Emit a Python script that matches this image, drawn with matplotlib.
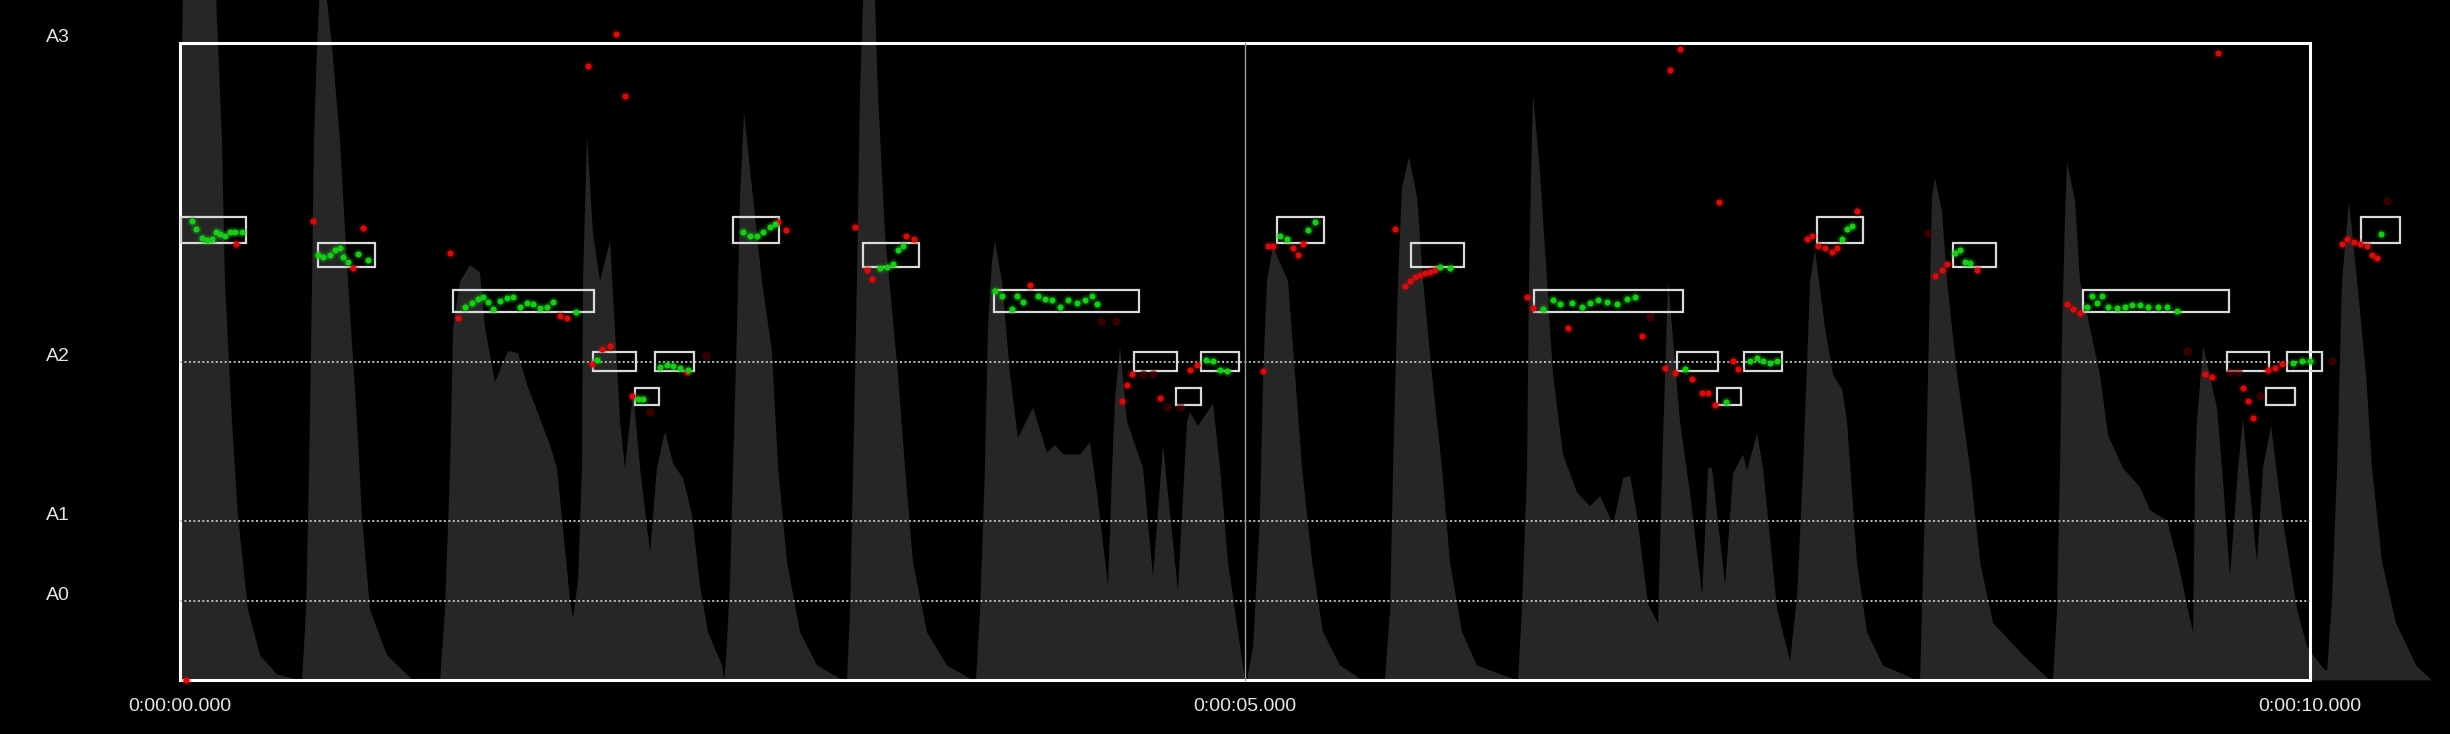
import matplotlib
matplotlib.use("Agg")
import matplotlib.pyplot as plt
import matplotlib.transforms as mtransforms
from matplotlib.patches import Rectangle

# amplitude envelope (time in s, level in % of display height)
env_t = [0.000, 0.005, 0.015, 0.090, 0.170, 0.197, 0.211, 0.244, 0.272, 0.319, 0.376, 0.455, 0.563,
         0.573, 0.592, 0.606, 0.620, 0.629, 0.643, 0.667, 0.690, 0.714, 0.751, 0.789, 0.831, 0.854, 0.892, 0.972, 1.094, 1.221,
         1.244, 1.268, 1.282, 1.315, 1.362, 1.408, 1.432, 1.479, 1.540, 1.587, 1.629, 1.737, 1.770, 1.831, 1.845, 1.869,
         1.887, 1.892, 1.911, 1.939, 1.972, 2.019, 2.042, 2.066, 2.089, 2.127, 2.160, 2.207, 2.239, 2.277, 2.315, 2.362,
         2.404, 2.441, 2.479, 2.545, 2.554,
         2.563, 2.582, 2.596, 2.615, 2.629, 2.648, 2.685, 2.732, 2.779, 2.808, 2.850, 2.911, 2.991, 3.113,
         3.131, 3.146, 3.160, 3.178, 3.192, 3.207, 3.235, 3.263, 3.277, 3.310, 3.371, 3.404, 3.441, 3.507, 3.601, 3.723,
         3.737, 3.756, 3.779, 3.793, 3.812, 3.826, 3.859, 3.897, 3.934, 4.005, 4.070, 4.108, 4.146, 4.225, 4.272, 4.305,
         4.357, 4.376, 4.390, 4.413, 4.446, 4.484, 4.521, 4.568, 4.615, 4.685, 4.728, 4.742, 4.779, 4.850, 4.883, 4.920,
         4.977, 5.000,
         5.009, 5.038, 5.070, 5.085, 5.103, 5.131, 5.202, 5.235, 5.268, 5.315, 5.366, 5.446, 5.554, 5.657,
         5.681, 5.695, 5.718, 5.737, 5.770, 5.808, 5.836, 5.878, 5.925, 5.962, 6.019, 6.089, 6.277,
         6.282, 6.300, 6.324, 6.333, 6.343, 6.352, 6.385, 6.418, 6.446, 6.493, 6.559, 6.620, 6.667, 6.728, 6.775, 6.808,
         6.840, 6.892, 6.939, 6.958, 6.986, 7.042, 7.089, 7.146, 7.174, 7.192, 7.254, 7.291, 7.338, 7.357, 7.404, 7.432,
         7.498, 7.559, 7.592, 7.620, 7.653, 7.676, 7.723, 7.761, 7.803, 7.826, 7.850, 7.873, 7.920, 7.995, 8.155,
         8.169, 8.178, 8.197, 8.216, 8.225, 8.239, 8.272, 8.296, 8.343, 8.404, 8.451, 8.512, 8.577, 8.653, 8.779,
         8.793, 8.812, 8.826, 8.836, 8.850, 8.859, 8.897, 8.920, 9.014, 9.052, 9.122, 9.202, 9.249, 9.329, 9.380, 9.427,
         9.451, 9.460, 9.469, 9.498, 9.563, 9.587, 9.624, 9.662, 9.685, 9.751, 9.779, 9.817, 9.869, 9.939, 9.986, 10.014, 10.070,
         10.080, 10.103, 10.127, 10.150, 10.183, 10.221, 10.263, 10.291, 10.338, 10.404, 10.498, 10.573]
env_level = [0, 80, 105, 118, 100, 79.4, 58.7, 38.1, 24.3, 10.4, 3.7, 0.9, 0,
             0, 10.4, 31.2, 58.7, 79.4, 93.1, 108, 100, 93.1, 79.4, 58.7, 38.1, 24.3, 10.4, 3.7, 0, 0,
             10.4, 31.2, 51.8, 58.7, 61.0, 60.0, 51.8, 43.8, 48.4, 48.1, 43.5, 34.6, 31.2, 11.8, 9.1, 14.7,
             31.2, 58.7, 80.0, 65.6, 58.7, 64.6, 51.8, 38.1, 31.2, 42.5, 31.2, 18.8, 31.2, 36.6, 31.9, 29.7,
             24.3, 14.0, 7.1, 2.2, 0,
             2.9, 14.0, 31.2, 51.8, 71.0, 83.5, 72.5, 58.7, 48.4, 31.2, 17.4, 7.1, 2.2, 0,
             0, 10.4, 31.2, 58.7, 86.2, 100, 110, 100, 86.2, 65.6, 44.9, 31.2, 17.4, 7.1, 2.2, 0,
             0, 10.4, 31.2, 51.8, 61.5, 64.6, 58.7, 44.9, 35.6, 40.1, 33.5, 34.6, 33.2, 33.2, 35.0, 27.6,
             14.0, 31.2, 41.5, 49.1, 38.1, 34.6, 31.2, 15.3, 34.6, 13.2, 38.1, 39.4, 37.4, 40.7, 31.2, 17.4,
             5.0, 0,
             0, 5.0, 24.3, 44.9, 58.7, 63.8, 58.7, 44.9, 31.2, 17.4, 7.1, 2.2, 0, 0,
             10.4, 31.2, 58.7, 72.5, 76.9, 71.0, 58.7, 44.9, 31.2, 17.4, 7.1, 2.2, 0,
             0, 10.4, 31.2, 58.7, 74.6, 86.2, 74.6, 58.7, 44.9, 33.2, 27.6, 25.6, 27.1, 22.9, 29.7, 30.1,
             24.3, 11.2, 8.4, 31.2, 58.7, 38.1, 27.6, 12.5, 31.2, 31.2, 14.0, 30.4, 33.2, 30.9, 36.3, 31.2,
             10.4, 2.9, 12.5, 31.2, 58.7, 63.2, 51.8, 44.9, 42.8, 38.1, 27.6, 17.4, 7.1, 2.2, 0,
             0, 10.4, 31.2, 58.7, 71.0, 73.8, 69.0, 58.7, 44.9, 31.2, 17.4, 8.4, 6.3, 3.7, 0,
             0, 10.4, 31.2, 51.8, 68.4, 76.2, 70.4, 58.7, 44.9, 36.0, 31.2, 28.4, 25.0, 23.5, 17.4, 10.4,
             7.1, 31.2, 38.1, 49.1, 40.1, 31.2, 15.3, 31.2, 38.4, 17.4, 31.2, 37.4, 24.3, 10.4, 5.0, 3.7, 1.5,
             1.5, 11.9, 31.2, 58.7, 70.4, 58.7, 44.9, 31.2, 17.4, 8.4, 2.2, 0]

# transcribed notes
note_start = [0.005, 0.648, 1.282, 1.939, 2.136, 2.230, 2.596, 3.207, 3.822, 4.479, 4.676, 4.793, 5.150,
              5.779, 6.357, 7.028, 7.216, 7.343, 7.685, 8.324, 8.934, 9.610, 9.793, 9.892, 10.239]
note_end = [0.310, 0.915, 1.944, 2.141, 2.249, 2.413, 2.812, 3.469, 4.502, 4.681, 4.793, 4.972, 5.371,
            6.028, 7.056, 7.221, 7.329, 7.521, 7.901, 8.526, 9.620, 9.808, 9.930, 10.056, 10.423]
note_midi = [51, 50, 48, 45, 43, 45, 51, 50, 48, 45, 43, 45, 51,
             50, 48, 45, 43, 45, 51, 50, 48, 45, 43, 45, 51]

# pitch estimates inside notes (green)
green_t = [0.055, 0.075, 0.102, 0.125, 0.149, 0.169, 0.188, 0.211, 0.235, 0.258, 0.290,
           0.649, 0.673, 0.704, 0.728, 0.751, 0.767, 0.790, 0.837, 0.884,
           1.338, 1.369, 1.401, 1.424, 1.447, 1.471, 1.502, 1.534, 1.565, 1.596, 1.627, 1.659, 1.690, 1.721, 1.753, 1.860,
           1.956, 2.152, 2.175, 2.254, 2.285, 2.316, 2.347, 2.386,
           2.645, 2.676, 2.707, 2.739, 2.770, 2.793,
           3.286, 3.318, 3.349, 3.372, 3.396,
           3.826, 3.858, 3.904, 3.928, 3.959, 4.030, 4.061, 4.093, 4.131, 4.171, 4.209, 4.249, 4.280, 4.303,
           4.818, 4.851, 4.883, 4.914,
           5.164, 5.196, 5.297, 5.329,
           5.915, 5.962,
           6.401, 6.448, 6.479, 6.534, 6.581, 6.620, 6.659, 6.698, 6.745, 6.792, 6.831,
           7.066, 7.260, 7.371, 7.402, 7.433, 7.465, 7.496,
           7.801, 7.825, 7.848,
           8.333, 8.357, 8.380, 8.404,
           8.951, 8.975, 8.998, 9.022, 9.053, 9.092, 9.131, 9.163, 9.202, 9.241, 9.288, 9.327, 9.374,
           9.922, 9.961, 10.000, 10.332]
green_hz = [158.6, 155.7, 152.8, 152.1, 152.4, 154.9, 154.1, 153.3, 154.9, 154.9, 154.9,
            146.8, 146.3, 146.8, 148.4, 149.2, 146.0, 144.4, 147.1, 145.2,
            129.0, 130.1, 131.8, 132.2, 130.6, 128.2, 131.1, 131.9, 132.2, 129.0, 130.1, 129.8, 128.5, 129.0, 130.6, 127.3,
            110.7, 97.2, 97.2, 108.3, 108.8, 108.5, 108.0, 107.2,
            154.9, 153.3, 153.3, 154.9, 156.5, 157.6,
            142.4, 142.7, 143.6, 148.4, 150.0,
            134.3, 132.7, 128.2, 132.7, 130.6, 132.7, 131.8, 131.4, 129.0, 131.4, 130.1, 131.4, 132.7, 129.8,
            110.7, 110.4, 107.2, 106.9,
            153.3, 152.4, 155.4, 158.1,
            142.7, 142.4,
            128.2, 131.4, 129.8, 130.1, 129.0, 130.1, 131.4, 130.6, 129.8, 131.8, 132.2,
            107.5, 96.2, 110.4, 111.3, 110.1, 109.6, 110.1,
            152.4, 155.7, 157.0,
            147.6, 148.4, 144.4, 144.0,
            129.0, 132.7, 130.1, 132.7, 129.0, 128.5, 129.0, 129.5, 129.5, 129.0, 129.0, 129.0, 127.4,
            109.6, 110.4, 110.1, 154.1]

# pitch estimates outside notes (red)
red_t = [0.030, 0.263, 0.626, 0.811, 0.858, 1.268, 1.307, 1.784, 1.815,
         1.932, 1.980, 2.019, 2.121, 2.379, 2.048, 1.917, 2.089,
         2.809, 2.847, 3.169, 3.224, 3.247, 3.410, 3.448, 3.991,
         4.468, 4.444, 4.421, 4.601, 4.742, 4.773, 5.086,
         5.110, 5.133, 5.227, 5.251, 5.274, 5.704, 7.042, 6.995, 7.227,
         5.751, 5.775, 5.798, 5.822, 5.845, 5.869, 5.892,
         6.354, 6.322, 6.518, 6.862,
         6.972, 7.019, 7.097, 7.144, 7.175, 7.207, 7.293, 7.316,
         7.637, 7.660, 7.692, 7.723, 7.754, 7.778, 7.872,
         8.239, 8.271, 8.294, 8.435, 8.858, 8.889, 8.920,
         9.507, 9.538, 9.687, 9.710, 9.734, 9.804, 9.836, 9.867, 9.570,
         10.149, 10.172, 10.204, 10.235, 10.266, 10.290, 10.313]
red_hz = [0.0, 150.8, 158.6, 142.4, 156.2, 147.6, 125.0, 125.8, 125.1,
          109.2, 114.5, 115.6, 98.3, 106.5, 223.2, 212.2, 201.7,
          158.1, 155.4, 156.5, 141.5, 138.4, 153.3, 152.4, 136.6,
          105.9, 102.0, 96.4, 97.5, 107.2, 108.8, 106.9,
          150.0, 150.0, 149.2, 146.8, 150.5, 155.7, 217.9, 210.6, 165.1,
          136.3, 137.9, 139.2, 139.8, 140.7, 140.8, 141.5,
          128.5, 132.2, 121.7, 118.8,
          108.0, 106.1, 104.0, 99.1, 99.1, 95.1, 110.1, 107.5,
          152.4, 153.3, 150.0, 149.2, 147.9, 149.2, 162.1,
          139.5, 141.5, 143.6, 141.5, 129.8, 128.2, 126.9,
          105.6, 104.8, 101.1, 96.4, 90.7, 107.2, 108.0, 109.1, 216.6,
          150.8, 152.4, 151.2, 150.8, 150.0, 146.8, 145.7]
faint_t = [4.325, 4.395, 4.523, 4.570, 4.632, 4.695, 6.901, 2.207, 2.471, 8.208,
           9.421, 9.624, 9.663, 9.765, 10.105, 10.363]
faint_hz = [124.2, 124.2, 105.6, 105.6, 94.3, 94.3, 125.3, 92.6, 112.0, 154.4,
            113.7, 106.4, 106.4, 98.3, 110.4, 165.4]

grid_names = ["A0", "A1", "A2", "A3"]
grid_midi = [21, 33, 45, 57]
tick_times = [0, 5, 10]
tick_labels = ["0:00:00.000", "0:00:05.000", "0:00:10.000"]


def midi_to_hz(m):
    return 440.0 * 2 ** ((m - 69) / 12.0)


fig = plt.figure(figsize=(24.5, 7.34), dpi=100, facecolor="black")

# envelope in the background
ax_env = fig.add_axes([0, 0, 1, 1])
ax_env.set_facecolor("black")
ax_env.fill_between(env_t, env_level, 0, color="#262626", lw=0)
ax_env.set_xlim(-0.845, 10.657)
ax_env.set_ylim(-7.88, 100)
ax_env.axis("off")

# pitch layer on top (linear Hz)
ax = ax_env.twinx()
ax.set_ylim(-18.5, 234.86)
ax.axis("off")

top_hz = midi_to_hz(grid_midi[-1])
for m in grid_midi[:-1]:
    hz = midi_to_hz(m)
    ax.plot([tick_times[0], tick_times[-1]], [hz, hz], color="#bdbdbd", lw=1.4, ls=(0, (1, 1.3)))

ax.plot([5, 5], [0, top_hz], color="#999999", lw=1.0)
ax.add_patch(Rectangle((tick_times[0], 0), tick_times[-1] - tick_times[0], top_hz,
                       fill=False, ec="white", lw=2.2))

for s, e, m in zip(note_start, note_end, note_midi):
    lo = midi_to_hz(m - 0.5)
    hi = midi_to_hz(m + 0.5)
    ax.add_patch(Rectangle((s, lo), e - s, hi - lo, fill=False, ec="#dadada", lw=1.6, zorder=3))

# soft, glowing dots
ax.scatter(faint_t, faint_hz, s=40, color="#5a0000", alpha=0.6, lw=0, zorder=4)
ax.scatter(red_t, red_hz, s=60, color="#b00000", alpha=0.25, lw=0, zorder=4)
ax.scatter(red_t, red_hz, s=20, color="#d01010", lw=0, zorder=5)
ax.scatter(green_t, green_hz, s=60, color="#00b000", alpha=0.25, lw=0, zorder=4)
ax.scatter(green_t, green_hz, s=20, color="#1ec81e", lw=0, zorder=5)

label_tr = mtransforms.blended_transform_factory(ax.transAxes, ax.transData)
for name, m in zip(grid_names, grid_midi):
    ax.annotate(name, xy=(0.0188, midi_to_hz(m)), xycoords=label_tr, xytext=(0, 4),
                textcoords="offset points", ha="left", va="center",
                color="#e6e6e6", fontsize=14, family="Liberation Sans")

tick_tr = mtransforms.blended_transform_factory(ax.transData, ax.transAxes)
for t, lab in zip(tick_times, tick_labels):
    ax.text(t, 0.038, lab, transform=tick_tr, ha="center", va="center",
            color="#e6e6e6", fontsize=14, family="Liberation Sans")

fig.savefig("out.png", dpi=100, facecolor="black")
